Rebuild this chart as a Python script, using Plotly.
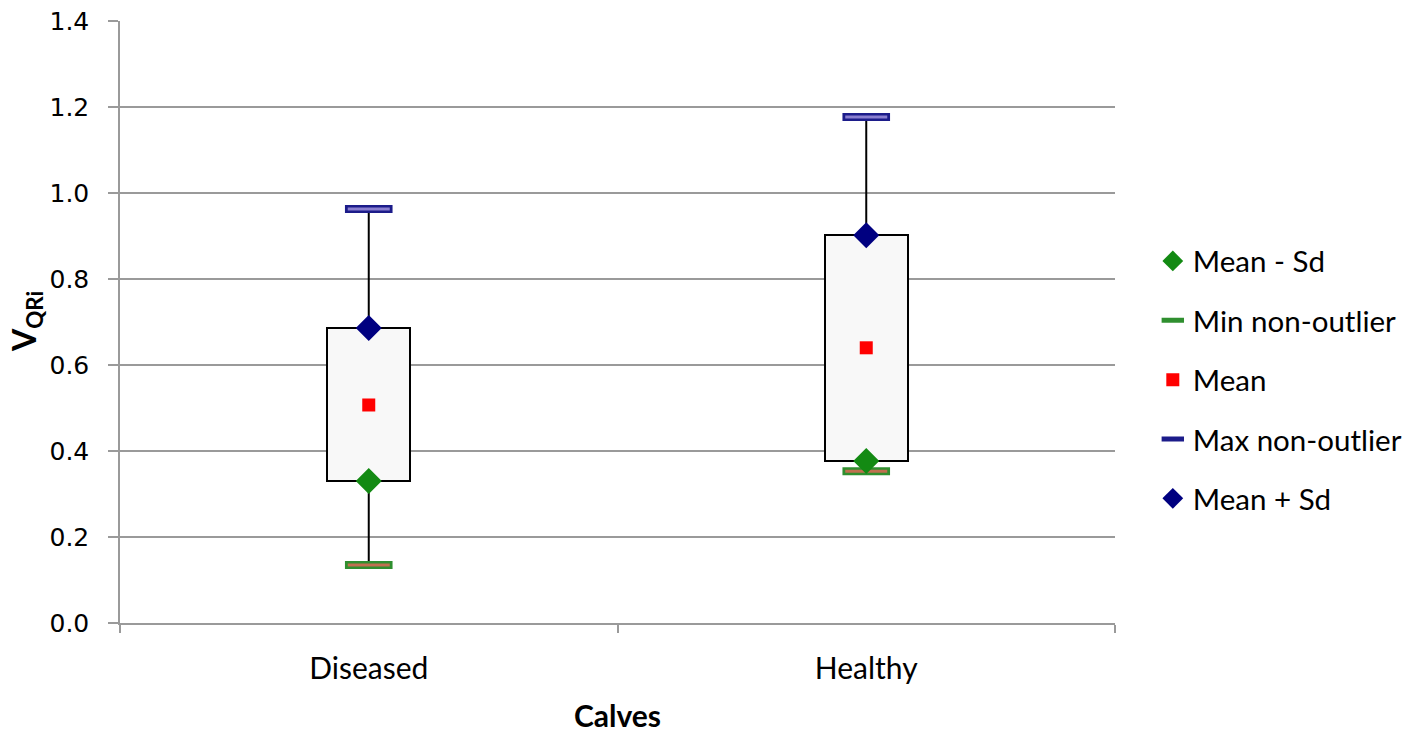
import plotly.graph_objects as go

categories = ["Diseased", "Healthy"]
mean_minus_sd = [0.330, 0.377]
mean_vals = [0.507, 0.640]
mean_plus_sd = [0.686, 0.902]
min_non_outlier = [0.135, 0.353]
max_non_outlier = [0.963, 1.177]
y_ticks = [0.0, 0.2, 0.4, 0.6, 0.8, 1.0, 1.2, 1.4]

GRID = "#9a9a9a"
LATO = "Lato, Open Sans, sans-serif"
LEG_FONT = dict(family=LATO, size=29.5, color="black")

fig = go.Figure()

# Box (mean - sd .. mean + sd)
fig.add_trace(go.Bar(
    x=categories,
    y=[h - l for h, l in zip(mean_plus_sd, mean_minus_sd)],
    base=mean_minus_sd,
    width=0.167,
    marker=dict(color="#f8f8f8", line=dict(color="black", width=2)),
    showlegend=False, hoverinfo="skip",
))

# Whiskers
wx, wy = [], []
for c, lo, bl, bh, hi in zip(categories, min_non_outlier, mean_minus_sd, mean_plus_sd, max_non_outlier):
    wx += [c, c, None, c, c, None]
    wy += [lo, bl, None, bh, hi, None]
fig.add_trace(go.Scatter(x=wx, y=wy, mode="lines", line=dict(color="black", width=2),
                         showlegend=False, hoverinfo="skip"))

# Min non-outlier caps
fig.add_trace(go.Scatter(x=categories, y=min_non_outlier, mode="markers", name="Min non-outlier",
                         legendgroup="min", legendrank=2,
                         marker=dict(symbol="line-ew", size=34, color="#2f8f2f",
                                     line=dict(color="#2f8f2f", width=8))))
fig.add_trace(go.Scatter(x=categories, y=min_non_outlier, mode="markers", name="Min non-outlier",
                         legendgroup="min", showlegend=False,
                         marker=dict(symbol="line-ew", size=30, color="#c0704f",
                                     line=dict(color="#c0704f", width=3))))
# Max non-outlier caps
fig.add_trace(go.Scatter(x=categories, y=max_non_outlier, mode="markers", name="Max non-outlier",
                         legendgroup="max", legendrank=4,
                         marker=dict(symbol="line-ew", size=34, color="#1c1c8a",
                                     line=dict(color="#1c1c8a", width=8))))
fig.add_trace(go.Scatter(x=categories, y=max_non_outlier, mode="markers", name="Max non-outlier",
                         legendgroup="max", showlegend=False,
                         marker=dict(symbol="line-ew", size=30, color="#8a7fd0",
                                     line=dict(color="#8a7fd0", width=3))))

# Mean
fig.add_trace(go.Scatter(x=categories, y=mean_vals, mode="markers", name="Mean",
                         legendgroup="mean", legendrank=3,
                         marker=dict(symbol="square", size=13, color="#ff0000")))
# Mean - Sd
fig.add_trace(go.Scatter(x=categories, y=mean_minus_sd, mode="markers", name="Mean - Sd",
                         legendgroup="msd", legendrank=1,
                         marker=dict(symbol="diamond", size=20, color="#138a13")))
# Mean + Sd
fig.add_trace(go.Scatter(x=categories, y=mean_plus_sd, mode="markers", name="Mean + Sd",
                         legendgroup="psd", legendrank=5,
                         marker=dict(symbol="diamond", size=20, color="#000080")))

fig.add_annotation(
    text="<b>V<sub>QRi</sub></b>", textangle=-90,
    xref="paper", yref="paper", x=0, y=0.5, xanchor="right", yanchor="middle",
    xshift=-70, showarrow=False,
    font=dict(family=LATO, size=32, color="black"),
)

fig.update_layout(
    width=1430, height=735,
    margin=dict(l=112, r=323, t=13, b=120),
    plot_bgcolor="white", paper_bgcolor="white",
    showlegend=True,
    legend=dict(x=1.038, xanchor="left", y=0.404, yanchor="middle",
                font=LEG_FONT, traceorder="grouped", tracegroupgap=18,
                bgcolor="rgba(0,0,0,0)"),
    xaxis=dict(
        type="category", tickson="boundaries", ticks="outside", ticklen=8,
        tickcolor=GRID, tickwidth=1.5, showline=True, linecolor=GRID, linewidth=1.5,
        showgrid=False, ticklabelstandoff=18, automargin=False,
        tickfont=dict(family=LATO, size=30, color="black"),
        title=dict(text="<b>Calves</b>", standoff=22,
                   font=dict(family=LATO, size=30, color="black")),
    ),
    yaxis=dict(
        range=[0, 1.4], tickvals=y_ticks, tickformat=".1f",
        ticks="outside", ticklen=10, tickcolor=GRID, tickwidth=1.5,
        showline=True, linecolor=GRID, linewidth=1.5,
        showgrid=True, gridcolor=GRID, gridwidth=1.5, zeroline=False,
        ticklabelstandoff=14, automargin=False, ticklabeloverflow="allow",
        tickfont=dict(family="DejaVu Sans, Verdana, sans-serif", size=25, color="black"),
    ),
    bargap=0,
)

fig.write_html("out.html")
